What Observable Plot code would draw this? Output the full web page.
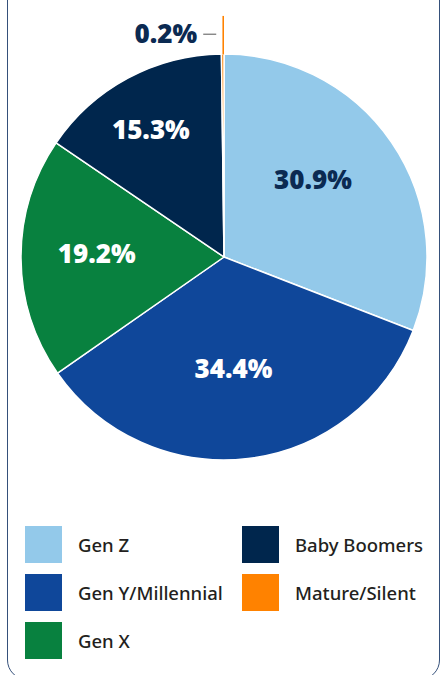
<!DOCTYPE html>
<html>
<head>
<meta charset="utf-8">
<script src="https://cdn.jsdelivr.net/npm/d3@7"></script>
<script src="https://cdn.jsdelivr.net/npm/@observablehq/plot@0.6"></script>
<style>
html, body { margin: 0; padding: 0; background: #fff; width: 441px; height: 675px; overflow: hidden; position: relative; }
#frame { position: absolute; left: 7px; top: -30px; width: 433px; height: 710px; box-sizing: border-box; border: 1.5px solid #35507a; border-radius: 20px; }
#chart { position: absolute; left: 0; top: 0; }
#legend { position: absolute; left: 25px; top: 526px; display: grid; grid-template-columns: 217px auto; grid-template-rows: repeat(3, 37px); row-gap: 11px; grid-auto-flow: column; font-family: "Noto Sans", sans-serif; font-weight: 500; font-size: 18.5px; color: #231f20; }
.item { display: flex; align-items: center; }
.sw { width: 37px; height: 37px; margin-right: 16px; flex: none; }
</style>
</head>
<body>
<div id="frame"></div>
<div id="chart"></div>
<div id="legend"></div>
<script>
// ---- data ----
const categories = ["Gen Z", "Gen Y/Millennial", "Gen X", "Baby Boomers", "Mature/Silent"];
const shares = [30.9, 34.4, 19.2, 15.3, 0.2];
const labels = ["30.9%", "34.4%", "19.2%", "15.3%", "0.2%"];
const colors = ["#93c9ea", "#0f479a", "#08813f", "#00264d", "#ff8200"];

// ---- styles ----
const labelColors = ["#0b2a52", "#ffffff", "#ffffff", "#ffffff", "#0b2a52"];
const labelNudgePx = [[-12, -8], [-5.5, -8.5], [-6, -4], [-16, -20]];
const R = 203; // pie radius in px (from layout margins)

const data = categories.map((c, i) => ({category: c, share: shares[i], label: labels[i]}));
const arcs = d3.pie().sort(null).value(d => d.share)(data);

// in-slice labels
const inLabels = arcs.slice(0, 4).map((a, i) => {
  const m = (a.startAngle + a.endAngle) / 2;
  return {
    x: 0.6 * Math.sin(m) + labelNudgePx[i][0] / R,
    y: 0.6 * Math.cos(m) - labelNudgePx[i][1] / R,
    text: a.data.label,
    color: labelColors[i]
  };
});

// small slice callout
const small = arcs[4];
const sm = (small.startAngle + small.endAngle) / 2;
const lx = Math.sin(sm);
const ly = Math.cos(sm);
const calloutY = 1.10;
const leader = [{x1: lx, y1: ly, x2: lx, y2: 1.19}];
const dash = [{x1: lx - 20 / R, y1: calloutY, x2: lx - 7 / R, y2: calloutY}];
const outLabel = [{x: lx - 26 / R, y: calloutY, text: small.data.label}];

const fallbackColor = d3.scaleOrdinal(categories, colors);

const slices = (index, scales) => {
  const color = scales.color || fallbackColor;
  const cx = scales.x(0), cy = scales.y(0), r = scales.x(1) - scales.x(0);
  const arc = d3.arc().innerRadius(0).outerRadius(r);
  const g = d3.create("svg:g").attr("transform", `translate(${cx},${cy})`);
  g.selectAll("path").data(arcs).join("path")
    .attr("d", arc)
    .attr("fill", d => color(d.data.category))
    .attr("stroke", "#ffffff")
    .attr("stroke-width", 1.5)
    .attr("stroke-linejoin", "round");
  return g.node();
};

const plot = Plot.plot({
  width: 441,
  height: 490,
  marginLeft: 21,
  marginRight: 14,
  marginTop: 54,
  marginBottom: 30,
  x: {domain: [-1, 1], axis: null},
  y: {domain: [-1, 1], axis: null},
  color: {domain: categories, range: colors},
  style: {overflow: "visible", background: "transparent"},
  marks: [
    slices,
    Plot.link(leader, {x1: "x1", y1: "y1", x2: "x2", y2: "y2", stroke: colors[4], strokeWidth: 1.6}),
    Plot.link(dash, {x1: "x1", y1: "y1", x2: "x2", y2: "y2", stroke: "#555555", strokeWidth: 1}),
    Plot.text(inLabels, {x: "x", y: "y", text: "text", fill: "color", fontSize: 26, fontWeight: 800, fontFamily: "Open Sans"}),
    Plot.text(outLabel, {x: "x", y: "y", text: "text", fill: labelColors[4], fontSize: 26, fontWeight: 800, fontFamily: "Open Sans", textAnchor: "end"})
  ]
});
document.getElementById("chart").appendChild(plot);

// legend from the plot's color scale
const cs = plot.scale("color");
const legend = d3.select("#legend");
cs.domain.forEach((c, i) => {
  const item = legend.append("div").attr("class", "item");
  item.append("div").attr("class", "sw").style("background", cs.range[i]);
  item.append("span").text(c);
});
</script>
</body>
</html>
